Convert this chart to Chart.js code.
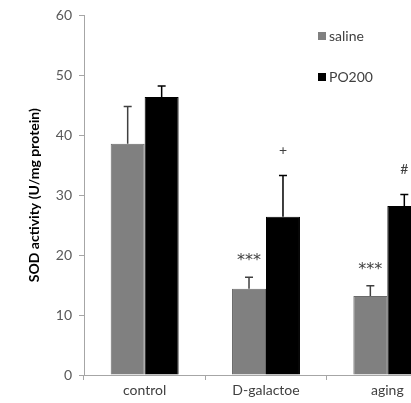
<!DOCTYPE html>
<html>
<head>
<meta charset="utf-8">
<script src="https://cdn.jsdelivr.net/npm/chart.js@4.4.0/dist/chart.umd.min.js"></script>
<style>
  html, body { margin: 0; padding: 0; background: #fff; overflow: hidden; }
  #wrap { width: 450px; height: 403px; }
</style>
</head>
<body>
<div id="wrap"><canvas id="sod"></canvas></div>
<script>
// groups along the x axis
var groups = ["control", "D-galactoe", "aging"];

// mean SOD activity (U/mg protein) and upper error
var salineVals = [38.6, 14.4, 13.2];
var salineErr  = [6.2, 1.9, 1.7];
var po200Vals  = [46.4, 26.4, 28.2];
var po200Err   = [1.8, 6.9, 1.9];

// significance marks above each bar
var salineMarks = ["", "***", "***"];
var po200Marks  = ["", "+", "#"];

var yTicks = [0, 10, 20, 30, 40, 50, 60];

var FONT = "Lato, 'Open Sans', sans-serif";

// error bars + significance marks, drawn from bar elements and y scale
var errorBars = {
  id: 'errorBars',
  afterDatasetsDraw: function(chart) {
    var ctx = chart.ctx, y = chart.scales.y;
    chart.data.datasets.forEach(function(ds, i) {
      var meta = chart.getDatasetMeta(i);
      meta.data.forEach(function(bar, j) {
        var top = y.getPixelForValue(ds.data[j] + ds.errors[j]);
        ctx.save();
        ctx.strokeStyle = ds.errColor;
        ctx.lineWidth = 1.5;
        ctx.beginPath();
        ctx.moveTo(bar.x, bar.y);
        ctx.lineTo(bar.x, top);
        ctx.moveTo(bar.x - 4, top);
        ctx.lineTo(bar.x + 4, top);
        ctx.stroke();
        var m = ds.marks[j];
        if (m) {
          ctx.fillStyle = '#404040';
          ctx.textAlign = 'center';
          ctx.textBaseline = 'middle';
          if (m === '***') {
            ctx.font = "16px 'DejaVu Sans', sans-serif";
            ctx.fillText(m, bar.x, top - 16);
          } else {
            ctx.font = '14px ' + FONT;
            ctx.fillText(m, bar.x, top - 25);
          }
        }
        ctx.restore();
      });
    });
  }
};

// legend at the upper right, vertical
var sideLegend = {
  id: 'sideLegend',
  afterDraw: function(chart) {
    var ctx = chart.ctx;
    chart.data.datasets.forEach(function(ds, i) {
      var yc = 36 + i * 41;
      ctx.save();
      ctx.fillStyle = ds.backgroundColor;
      ctx.fillRect(318, yc - 4, 8, 8);
      ctx.fillStyle = '#404040';
      ctx.font = '14px ' + FONT;
      ctx.textBaseline = 'middle';
      ctx.fillText(ds.label, 329, yc);
      ctx.restore();
    });
  }
};

var sodChart = new Chart(document.getElementById("sod"), {
  type: 'bar',
  data: {
    labels: groups,
    datasets: [
      { label: "saline", data: salineVals, errors: salineErr, marks: salineMarks,
        backgroundColor: "#808080", borderColor: "#6a6a6a", borderWidth: 1, errColor: "#404040" },
      { label: "PO200", data: po200Vals, errors: po200Err, marks: po200Marks,
        backgroundColor: "#000000", borderColor: "#000000", borderWidth: 1, errColor: "#000000" }
    ]
  },
  options: {
    responsive: true,
    maintainAspectRatio: false,
    animation: false,
    devicePixelRatio: 1,
    layout: { padding: { left: 22, top: 8, right: 2, bottom: 0 } },
    categoryPercentage: 0.56,
    barPercentage: 1.0,
    plugins: { legend: { display: false }, tooltip: { enabled: false } },
    scales: {
      x: {
        grid: { display: true, drawOnChartArea: false, offset: true, tickLength: 5, color: '#a6a6a6' },
        border: { color: '#a6a6a6' },
        ticks: { color: '#404040', font: { family: FONT, size: 14 }, padding: 2 },
        afterFit: function(s) { s.height = 28; }
      },
      y: {
        min: 0, max: 60,
        afterBuildTicks: function(s) { s.ticks = yTicks.map(function(v) { return { value: v }; }); },
        grid: { display: true, drawOnChartArea: false, tickLength: 5, color: '#a6a6a6' },
        border: { color: '#a6a6a6' },
        ticks: { color: '#595959', font: { family: FONT, size: 14 }, padding: 7 },
        title: { display: true, text: "SOD activity (U/mg protein)", color: '#000',
                 font: { family: FONT, size: 14, weight: 'bold' }, padding: 4 },
        afterFit: function(s) { s.width = 62; }
      }
    }
  },
  plugins: [errorBars, sideLegend]
});
</script>
</body>
</html>
